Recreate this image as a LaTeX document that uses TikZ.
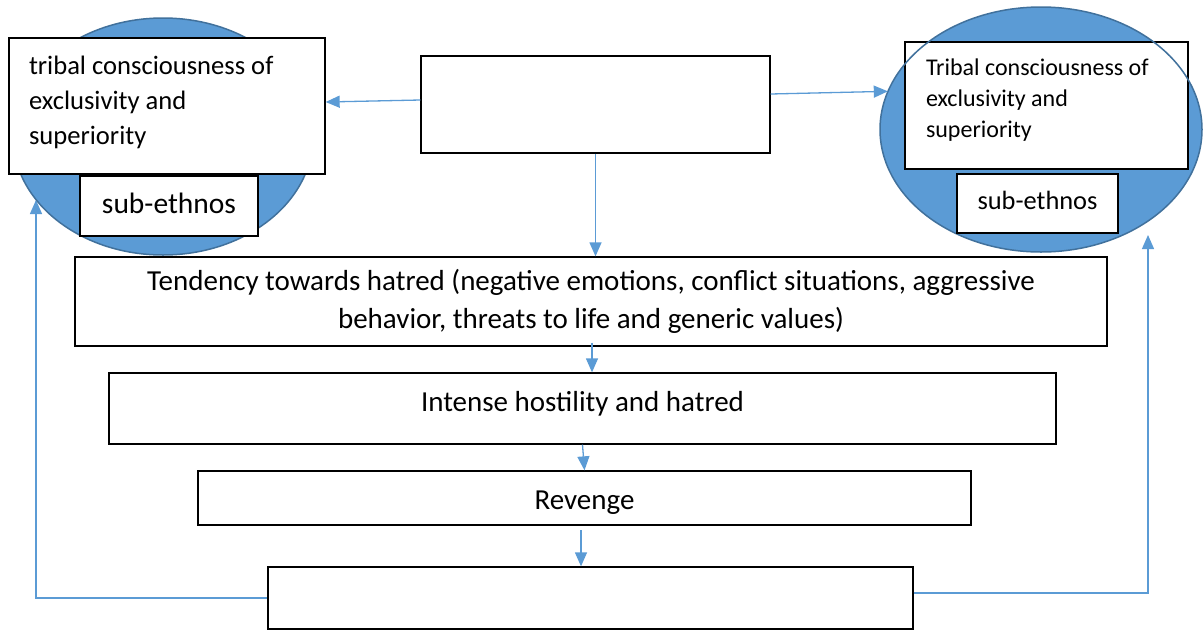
\documentclass[tikz,border=0pt]{standalone}
\usepackage{fontspec}
\setmainfont{Carlito}
\usetikzlibrary{arrows.meta,shapes.geometric,backgrounds,calc}
\definecolor{blobfill}{HTML}{5B9BD5}
\definecolor{blobedge}{HTML}{41719C}
\definecolor{arrowblue}{HTML}{5B9BD5}
\begin{document}
\begin{tikzpicture}[x=1pt,y=-1pt,
  box/.style={draw=black, line width=1.3pt, fill=white, inner sep=0pt},
  conn/.style={draw=arrowblue, line width=1.3pt, -{Triangle[length=14pt,width=12pt]}},
  blob/.style={ellipse, fill=blobfill, inner sep=0pt},
  blobline/.style={ellipse, draw=blobedge, line width=1.5pt, inner sep=0pt}]
\useasboundingbox (0,0) rectangle (1203,630);
% left ellipse
\node[blob, draw=blobedge, line width=1.5pt, minimum width=300pt, minimum height=237pt] (eL) at (163,136.5) {};
% right ellipse fill
\node[blob, minimum width=322pt, minimum height=245pt] (eR) at (1041,129.5) {};
% left boxes
\node[box, minimum width=316pt, minimum height=136pt, text width=276pt, align=flush left, inner xsep=20pt,
      text height=19.5pt, text depth=83.5pt, font=\fontsize{26.6}{35}\selectfont] (L) at (167,106)
  {tribal consciousness of\\exclusivity and\\superiority};
\node[box, minimum width=178pt, minimum height=60pt, text depth=6pt, font=\fontsize{29.5}{34}\selectfont] (Ls) at (169,206) {sub-ethnos};
% right boxes
\node[box, minimum width=283pt, minimum height=127pt, text width=241pt, align=flush left, inner xsep=21pt,
      text height=18pt, text depth=79pt, font=\fontsize{24}{31}\selectfont] (R) at (1046.5,105.5)
  {Tribal consciousness of\\exclusivity and\\superiority};
\node[blobline, minimum width=322pt, minimum height=245pt] (eRo) at (1041,129.5) {};
\node[box, minimum width=161pt, minimum height=59pt, text depth=6pt, font=\fontsize{26.4}{30}\selectfont] (Rs) at (1037.5,203.5) {sub-ethnos};
% centre column
\node[box, minimum width=349pt, minimum height=97pt] (top) at (595.5,104.5) {};
\node[box, minimum width=1032pt, minimum height=89pt, align=center, font=\fontsize{29}{38}\selectfont] (T) at (591,301.5)
  {Tendency towards hatred (negative emotions, conflict situations, aggressive\\behavior, threats to life and generic values)};
\node[box, minimum width=947pt, minimum height=71pt, text height=20.3pt, text depth=15pt, font=\fontsize{29}{34}\selectfont] (I) at (582.5,408.5) {Intense hostility and hatred};
\node[box, minimum width=773pt, minimum height=54pt, text height=29.5pt, text depth=6pt, font=\fontsize{29}{34}\selectfont] (Rv) at (584.5,498) {Revenge};
\node[box, minimum width=645pt, minimum height=62pt] (B) at (590.5,598) {};
% coordinates for free ends
\coordinate (lin) at (36,200);
\coordinate (rin) at (1148,235);
\coordinate (rvout) at (581,530);
% connectors
\draw[conn] ([yshift=4.5pt]top.west) -- ([yshift=4pt]L.east);
\draw[conn] ([yshift=10.5pt]top.east) -- (eR.166);
\draw[conn] (top.south) -- (top.south |- T.north);
\draw[conn] ([xshift=1pt,yshift=4pt]T.south) -- ([xshift=1pt]T.south |- I.north);
\draw[conn] (I.south) -- (Rv.north);
\draw[conn] (rvout) -- (rvout |- B.north);
\draw[conn] ([yshift=5pt]B.east) -| (rin);
\begin{pgfonlayer}{background}
\draw[conn] (B.west) -| (lin);
\end{pgfonlayer}
\end{tikzpicture}
\end{document}
